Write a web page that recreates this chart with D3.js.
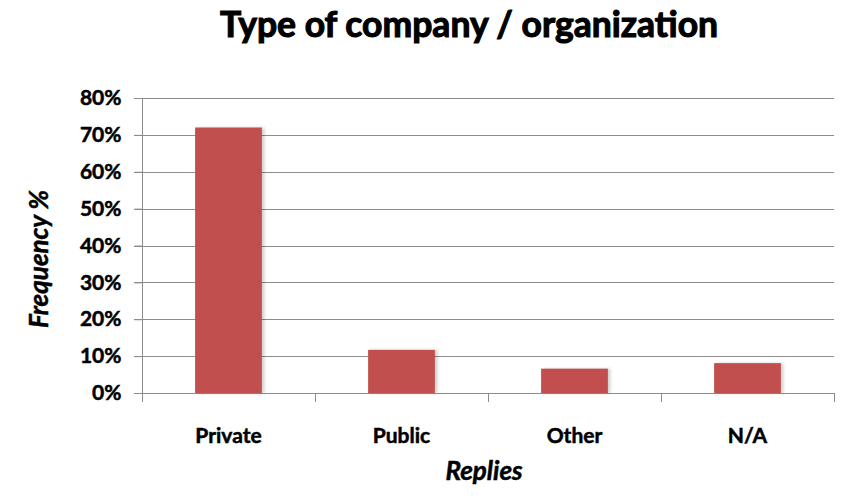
<!DOCTYPE html>
<html>
<head>
<meta charset="utf-8">
<script src="https://cdn.jsdelivr.net/npm/d3@7/dist/d3.min.js"></script>
<style>
  html, body { margin: 0; padding: 0; background: #ffffff; }
  svg { display: block; }
  text { font-family: Lato, "DejaVu Sans", sans-serif; font-weight: bold; fill: #000;
         stroke: #000; stroke-width: 0.5px; paint-order: stroke; }
</style>
</head>
<body>
<svg id="chart" width="851" height="501"></svg>
<script>
// Survey replies: share of respondents by type of company / organization
const categories = ["Private", "Public", "Other", "N/A"];
const values = [0.72, 0.117, 0.066, 0.081];
const yTicks = [0, 0.1, 0.2, 0.3, 0.4, 0.5, 0.6, 0.7, 0.8];
const titleText = "Type of company / organization";
const xTitle = "Replies";
const yTitle = "Frequency %";

const svg = d3.select("#chart");
const margin = { left: 142, right: 17, top: 98, bottom: 108 };
const W = 851, H = 501;

const x = d3.scaleBand()
  .domain(categories)
  .range([margin.left, W - margin.right])
  .paddingInner(0.614)
  .paddingOuter(0.307);

const y = d3.scaleLinear()
  .domain([0, 0.8])
  .range([H - margin.bottom, margin.top]);

// soft shadow behind bars
const defs = svg.append("defs");
const f = defs.append("filter").attr("id", "shadow")
  .attr("x", "-20%").attr("y", "-5%").attr("width", "140%").attr("height", "110%");
f.append("feDropShadow").attr("dx", 2.5).attr("dy", 0).attr("stdDeviation", 1.5)
  .attr("flood-color", "#000").attr("flood-opacity", 0.18);

// gridlines
svg.append("g")
  .selectAll("line")
  .data(yTicks.slice(1))
  .join("line")
  .attr("x1", margin.left - 8)
  .attr("x2", W - margin.right)
  .attr("y1", d => Math.round(y(d)) + 0.5)
  .attr("y2", d => Math.round(y(d)) + 0.5)
  .attr("stroke", "#8c8c8c")
  .attr("stroke-width", 1);

// y axis
const yAxis = svg.append("g")
  .attr("transform", `translate(${margin.left + 0.5},0)`)
  .call(d3.axisLeft(y).tickValues(yTicks).tickFormat(d3.format(".0%")).tickSize(8).tickPadding(13));
yAxis.select(".domain").attr("stroke", "#8c8c8c").attr("d", `M0,${y(0.8)}V${y(0) + 9}`);
yAxis.selectAll(".tick line").attr("stroke", "#8c8c8c");
yAxis.selectAll(".tick text")
  .style("font-size", "21px").style("font-family", "Lato, sans-serif").style("font-weight", "bold")
  .attr("fill", "#000").style("stroke", "#000").style("stroke-width", "0.5px").style("paint-order", "stroke");

// x axis baseline with ticks at category boundaries
const bounds = d3.range(categories.length + 1).map(i => margin.left + i * x.step());
const xg = svg.append("g");
xg.append("line")
  .attr("x1", margin.left - 8).attr("x2", W - margin.right)
  .attr("y1", Math.round(y(0)) + 0.5).attr("y2", Math.round(y(0)) + 0.5)
  .attr("stroke", "#8c8c8c");
xg.selectAll("line.tk")
  .data(bounds.slice(1))
  .join("line").attr("class", "tk")
  .attr("x1", d => Math.round(d) + 0.5).attr("x2", d => Math.round(d) + 0.5)
  .attr("y1", Math.round(y(0))).attr("y2", Math.round(y(0)) + 9)
  .attr("stroke", "#8c8c8c");

// bars
svg.append("g")
  .selectAll("rect")
  .data(categories.map((c, i) => ({ c, v: values[i] })))
  .join("rect")
  .attr("x", d => x(d.c))
  .attr("width", x.bandwidth())
  .attr("y", d => y(d.v))
  .attr("height", d => y(0) - y(d.v))
  .attr("fill", "#c0504d")
  .attr("filter", "url(#shadow)");

// category labels
svg.append("g")
  .selectAll("text")
  .data(categories)
  .join("text")
  .attr("x", d => x(d) + x.bandwidth() / 2)
  .attr("y", 443)
  .attr("text-anchor", "middle")
  .style("font-size", "21px")
  .text(d => d);

// axis titles
svg.append("text")
  .attr("x", 484)
  .attr("y", 480)
  .attr("text-anchor", "middle")
  .style("font-size", "26px")
  .style("font-style", "italic")
  .text(xTitle);

svg.append("text")
  .attr("transform", `translate(48,259) rotate(-90)`)
  .attr("text-anchor", "middle")
  .style("font-size", "26px")
  .style("font-style", "italic")
  .text(yTitle);

// chart title
svg.append("text")
  .attr("x", 469)
  .attr("y", 37)
  .attr("text-anchor", "middle")
  .style("font-size", "35.5px")
  .style("stroke-width", "1.1px")
  .text(titleText);
</script>
</body>
</html>
